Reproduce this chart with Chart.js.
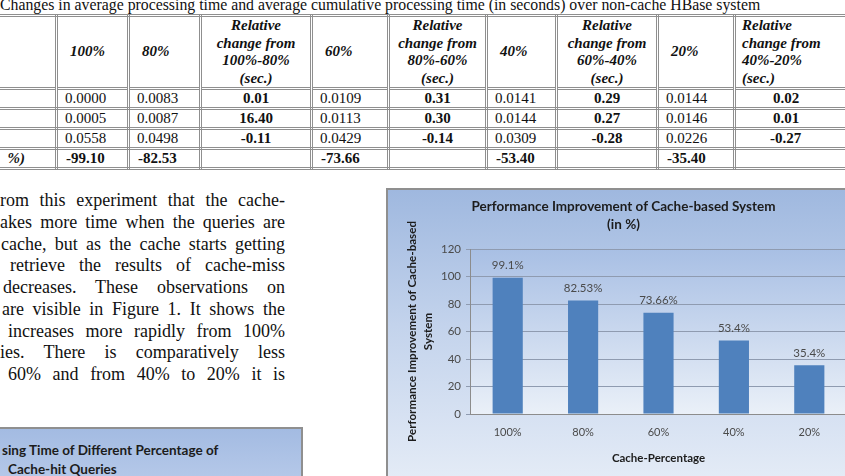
<!DOCTYPE html>
<html>
<head>
<meta charset="utf-8">
<script src="https://cdn.jsdelivr.net/npm/chart.js@4.4.1/dist/chart.umd.min.js"></script>
<style>
  html, body { margin: 0; padding: 0; background: #fff; }
  body { width: 845px; height: 476px; overflow: hidden; position: relative; font-family: "Liberation Serif", "Times New Roman", serif; color: #111; }
  .caption { position: absolute; left: 0; top: -4px; font-size: 15.8px; line-height: 17px; white-space: nowrap; }
  table.res { position: absolute; left: -60px; top: 14px; width: 963px; border-collapse: collapse; table-layout: fixed; font-size: 15px; }
  table.res td { border: 3px double #8f8f8f; padding: 0; white-space: nowrap; overflow: hidden; }
  table.res tr.head td { height: 70px; font-weight: bold; font-style: italic; line-height: 17.5px; border-bottom: 2px solid #222; }
  table.res tr.r1 td { height: 17px; }
  table.res tr.r2 td { height: 17px; }
  table.res tr.r3 td { height: 16px; }
  table.res tr.r4 td { height: 15px; }
  td.pc { text-align: left; padding-left: 12px !important; }
  td.rel { text-align: center; }
  td.num { text-align: left; padding-left: 7px !important; }
  td.b { text-align: center; font-weight: bold; }
  td.bn { text-align: left; padding-left: 8px !important; font-weight: bold; }
  td.last { text-align: left !important; padding-left: 10px !important; }
  .para { position: absolute; left: 0; top: 190px; width: 285px; font-size: 18px; }
  .para div { height: 21.75px; line-height: 21.75px; text-align: justify; text-align-last: justify; white-space: nowrap; }
  .box { position: absolute; background: linear-gradient(to bottom, #9fb8df 0%, #c3d3ec 45%, #e6edf7 100%); }
  #chartBox { left: 386px; top: 188px; width: 470px; height: 300px; border-top: 2px solid #8f8f8f; border-left: 2px solid #8f8f8f; }
  #chartCanvas { position: absolute; left: 386px; top: 188px; }
  #lowerBox { left: -10px; top: 427px; width: 311px; height: 60px; border-top: 2px solid #8f8f8f; border-right: 2px solid #8f8f8f; background: linear-gradient(to bottom, #a3bbe2, #b9cbea); }
  .lt { position: absolute; font-family: Lato, sans-serif; font-weight: bold; font-size: 13.5px; color: #1c1c1c; white-space: nowrap; line-height: 16px; }
</style>
</head>
<body>
<div class="caption">Changes in average processing time and average cumulative processing time (in seconds) over non-cache HBase system</div>
<table class="res">
  <colgroup>
    <col style="width:115px"><col style="width:72px"><col style="width:72px"><col style="width:111px"><col style="width:77px">
    <col style="width:98px"><col style="width:70px"><col style="width:101px"><col style="width:77px"><col style="width:170px">
  </colgroup>
  <tr class="head">
    <td></td><td class="pc">100%</td><td class="pc">80%</td>
    <td class="rel">Relative<br>change from<br>100%-80%<br>(sec.)</td><td class="pc">60%</td>
    <td class="rel">Relative<br>change from<br>80%-60%<br>(sec.)</td><td class="pc">40%</td>
    <td class="rel">Relative<br>change from<br>60%-40%<br>(sec.)</td><td class="pc">20%</td>
    <td class="rel" style="text-align:left;padding-left:6px;">Relative<br>change from<br>40%-20%<br>(sec.)</td>
  </tr>
  <tr class="r1"><td></td><td class="num">0.0000</td><td class="num">0.0083</td><td class="b">0.01</td><td class="num">0.0109</td><td class="b">0.31</td><td class="num">0.0141</td><td class="b">0.29</td><td class="num">0.0144</td><td class="b last" style="padding-left:37px !important">0.02</td></tr>
  <tr class="r2"><td></td><td class="num">0.0005</td><td class="num">0.0087</td><td class="b">16.40</td><td class="num">0.0113</td><td class="b">0.30</td><td class="num">0.0144</td><td class="b">0.27</td><td class="num">0.0146</td><td class="b last" style="padding-left:37px !important">0.01</td></tr>
  <tr class="r3"><td></td><td class="num">0.0558</td><td class="num">0.0498</td><td class="b">-0.11</td><td class="num">0.0429</td><td class="b">-0.14</td><td class="num">0.0309</td><td class="b">-0.28</td><td class="num">0.0226</td><td class="b last" style="padding-left:34px !important">-0.27</td></tr>
  <tr class="r4"><td style="text-align:right;padding-right:30px;font-weight:bold;font-style:italic;">%)</td><td class="bn">-99.10</td><td class="bn">-82.53</td><td></td><td class="bn">-73.66</td><td></td><td class="bn">-53.40</td><td></td><td class="bn">-35.40</td><td></td></tr>
</table>

<div class="para">
  <div>rom this experiment that the cache-</div>
  <div>akes more time when the queries are</div>
  <div style="padding-left:1px">cache, but as the cache starts getting</div>
  <div style="padding-left:10px">retrieve the results of cache-miss</div>
  <div style="padding-left:3px">decreases. These observations on</div>
  <div style="padding-left:2px">are visible in Figure 1. It shows the</div>
  <div style="padding-left:8px">increases more rapidly from 100%</div>
  <div>ies. There is comparatively less</div>
  <div style="padding-left:8px">60% and from 40% to 20% it is</div>
</div>

<div id="lowerBox" class="box"></div>
<div class="lt" style="left:2px; top:442px;">sing Time of Different Percentage of</div>
<div class="lt" style="left:8px; top:461px;">Cache-hit Queries</div>

<div id="chartBox" class="box"></div>
<canvas id="chartCanvas" width="461" height="286" style="width:461px;height:286px;"></canvas>

<script>
const categories = ['100%', '80%', '60%', '40%', '20%'];
const improvement = [99.1, 82.53, 73.66, 53.4, 35.4];
const barLabels = ['99.1%', '82.53%', '73.66%', '53.4%', '35.4%'];
const yMin = 0;
const yMax = 120;
const yStep = 20;

const plotBackground = {
    id: 'plotBackground',
    beforeDraw(chart) {
        const { ctx, chartArea } = chart;
        const g = ctx.createLinearGradient(0, chartArea.top, 0, chartArea.bottom);
        g.addColorStop(0, '#a8bfe4');
        g.addColorStop(1, '#eaf0f8');
        ctx.save();
        ctx.fillStyle = g;
        ctx.fillRect(chartArea.left, chartArea.top, chartArea.right - chartArea.left, chartArea.bottom - chartArea.top);
        ctx.restore();
    }
};

// percentage text above every bar
const barValueLabels = {
    id: 'barValueLabels',
    afterDatasetsDraw(chart) {
        const { ctx } = chart;
        const meta = chart.getDatasetMeta(0);
        ctx.save();
        ctx.font = '11.5px Lato, sans-serif';
        ctx.fillStyle = '#4a4a4a';
        ctx.textAlign = 'center';
        ctx.textBaseline = 'middle';
        meta.data.forEach((bar, i) => {
            ctx.fillText(barLabels[i], bar.x, bar.y - 12.5);
        });
        ctx.restore();
    }
};

const ctx = document.querySelector('#chartCanvas').getContext('2d');
new Chart(ctx, {
    type: 'bar',
    data: {
        labels: categories,
        datasets: [{
            label: 'Performance Improvement',
            data: improvement,
            backgroundColor: '#4f81bd',
            borderWidth: 0,
            barPercentage: 0.4,
            categoryPercentage: 1.0
        }]
    },
    options: {
        responsive: false,
        animation: false,
        layout: { padding: { left: 14, right: 0, top: 0, bottom: 0 } },
        plugins: {
            legend: { display: false },
            tooltip: { enabled: false },
            title: {
                display: true,
                text: ['Performance Improvement of Cache-based System', '(in %)'],
                font: { family: 'Lato', size: 13.5, weight: 'bold', lineHeight: 18 / 13.5 },
                color: '#1c1c1c',
                padding: { top: 10, bottom: 15 }
            }
        },
        scales: {
            x: {
                grid: { display: true, drawOnChartArea: false, drawTicks: false },
                border: { color: '#8c8c8c' },
                ticks: { font: { family: 'Lato', size: 11 }, color: '#4a4a4a', padding: 12 },
                title: {
                    display: true,
                    text: 'Cache-Percentage',
                    font: { family: 'Lato', size: 11.5, weight: 'bold' },
                    color: '#1c1c1c',
                    padding: { top: 0, bottom: 9 }
                },
                afterFit: (s) => { s.height = 60; }
            },
            y: {
                min: yMin,
                max: yMax,
                ticks: { stepSize: yStep, font: { family: 'Lato', size: 11.5 }, color: '#4a4a4a', padding: 5 },
                grid: { color: '#8f9bb0', tickLength: 4 },
                border: { color: '#8c8c8c' },
                title: {
                    display: true,
                    text: ['Performance Improvement of Cache-based', 'System'],
                    font: { family: 'Lato', size: 11.6, weight: 'bold', lineHeight: 16 / 11.6 },
                    color: '#1c1c1c',
                    padding: { top: 4, bottom: 0 }
                },
                afterFit: (s) => { s.width = 70; }
            }
        }
    },
    plugins: [plotBackground, barValueLabels]
});
</script>
</body>
</html>
